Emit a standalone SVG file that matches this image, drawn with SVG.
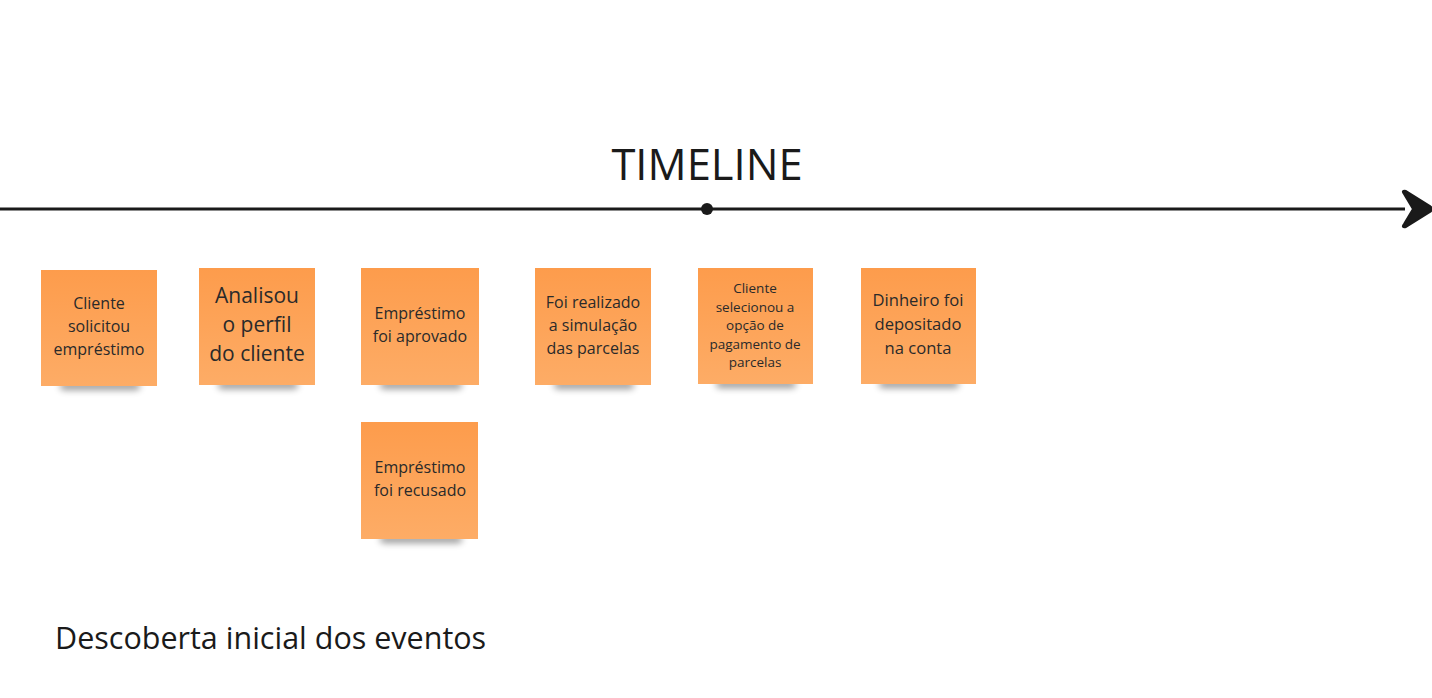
<svg xmlns="http://www.w3.org/2000/svg" width="1432" height="698" viewBox="0 0 1432 698">
<defs>
<linearGradient id="sticky" x1="0" y1="0" x2="0" y2="1">
<stop offset="0" stop-color="#fd9c4c"/>
<stop offset="1" stop-color="#fdac66"/>
</linearGradient>
<filter id="blur" x="-20%" y="-200%" width="140%" height="500%">
<feGaussianBlur stdDeviation="3.5"/>
</filter>
</defs>
<style>
.note{fill:url(#sticky)}
.shadow{fill:#000;opacity:0.4;filter:url(#blur)}
.t{font-family:"Open Sans","Noto Sans",sans-serif;fill:#2a2a2a;text-anchor:middle;font-size:16px}
.big{font-size:21px}
.small{font-size:13.5px}
.title{font-family:"Open Sans","Noto Sans",sans-serif;fill:#1a1a1a}
</style>
<rect width="1432" height="698" fill="#ffffff"/>

<g id="connectors">
<line x1="0" y1="209" x2="1405" y2="209" stroke="#1a1a1a" stroke-width="3"/>
<path d="M1404,194 Q1401,190 1406,191 L1430,206 Q1434,209 1430,212 L1406,227 Q1401,228 1404,224 L1413,209 Z" fill="#1a1a1a" stroke="#1a1a1a" stroke-width="2" stroke-linejoin="round"/>
<circle cx="707" cy="209" r="6" fill="#1a1a1a"/>
</g>

<text id="timeline-title" class="title" x="707" y="180" style="font-size:43.5px" text-anchor="middle">TIMELINE</text>

<g id="n1">
<rect class="shadow" x="60" y="382" width="80" height="8" rx="4"/>
<rect class="note" x="41" y="270" width="116" height="116"/>
<text class="t" x="99" y="309">Cliente</text>
<text class="t" x="99" y="332">solicitou</text>
<text class="t" x="99" y="355">empréstimo</text>
</g>

<g id="n2">
<rect class="shadow" x="218" y="381" width="80" height="8" rx="4"/>
<rect class="note" x="199" y="268" width="116" height="117"/>
<text class="t big" x="257" y="303">Analisou</text>
<text class="t big" x="257" y="332">o perfil</text>
<text class="t big" x="257" y="361">do cliente</text>
</g>

<g id="n3">
<rect class="shadow" x="380" y="381" width="82" height="8" rx="4"/>
<rect class="note" x="361" y="268" width="118" height="117"/>
<text class="t" x="420" y="319">Empréstimo</text>
<text class="t" x="420" y="342">foi aprovado</text>
</g>

<g id="n4">
<rect class="shadow" x="380" y="535" width="82" height="8" rx="4"/>
<rect class="note" x="361" y="422" width="117" height="117"/>
<text class="t" x="420" y="473">Empréstimo</text>
<text class="t" x="420" y="496">foi recusado</text>
</g>

<g id="n5">
<rect class="shadow" x="554" y="381" width="80" height="8" rx="4"/>
<rect class="note" x="535" y="268" width="116" height="117"/>
<text class="t" x="593" y="308">Foi realizado</text>
<text class="t" x="593" y="331">a simulação</text>
<text class="t" x="593" y="354">das parcelas</text>
</g>

<g id="n6">
<rect class="shadow" x="716" y="380" width="80" height="8" rx="4"/>
<rect class="note" x="698" y="268" width="115" height="116"/>
<text class="t small" x="755" y="293">Cliente</text>
<text class="t small" x="755" y="311.5">selecionou a</text>
<text class="t small" x="755" y="330">opção de</text>
<text class="t small" x="755" y="348.5">pagamento de</text>
<text class="t small" x="755" y="367">parcelas</text>
</g>

<g id="n7">
<rect class="shadow" x="879" y="380" width="80" height="8" rx="4"/>
<rect class="note" x="861" y="268" width="115" height="116"/>
<text class="t" x="918" y="306" style="font-size:16.6px">Dinheiro foi</text>
<text class="t" x="918" y="330" style="font-size:16.6px">depositado</text>
<text class="t" x="918" y="354" style="font-size:16.6px">na conta</text>
</g>

<text id="caption" class="title" x="55" y="649" style="font-size:30.5px">Descoberta inicial dos eventos</text>
</svg>
